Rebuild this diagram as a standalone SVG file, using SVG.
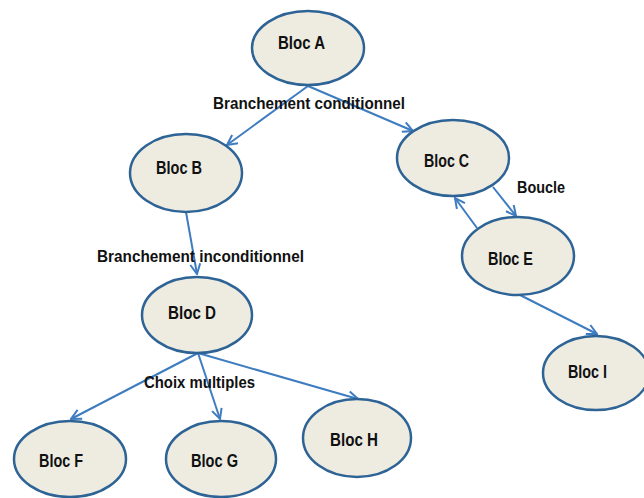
<svg xmlns="http://www.w3.org/2000/svg" width="644" height="498" viewBox="0 0 644 498">
<defs>
<style>
.node ellipse{fill:#EEECE1;stroke:#2E6396;stroke-width:2.5}
.node text{font-family:"Liberation Sans",Arial,sans-serif;font-weight:bold;font-size:19px;fill:#111}
.lbl{font-family:"Liberation Sans",Arial,sans-serif;font-weight:bold;font-size:17px;fill:#111}
#edges line{stroke:#3E7CC0;stroke-width:2;marker-end:url(#arr)}
</style>
<marker id="arr" viewBox="0 0 12 12" refX="11" refY="6" markerWidth="6" markerHeight="6" orient="auto" markerUnits="strokeWidth">
<path d="M1,1 L11,6 L1,11" fill="none" stroke="#3E7CC0" stroke-width="2"/>
</marker>
</defs>
<rect width="644" height="498" fill="#fff"/>
<g id="edges">
<line x1="308" y1="86" x2="227" y2="145"/>
<line x1="308" y1="86" x2="413" y2="131"/>
<line x1="186" y1="212" x2="197" y2="274"/>
<line x1="493" y1="187" x2="516" y2="216"/>
<line x1="477" y1="228" x2="455" y2="198"/>
<line x1="520" y1="295" x2="597" y2="334"/>
<line x1="198" y1="353" x2="71" y2="419"/>
<line x1="198" y1="353" x2="220" y2="419"/>
<line x1="198" y1="353" x2="358" y2="399"/>
</g>
<g id="labels">
<text class="lbl" x="213" y="109" textLength="192" lengthAdjust="spacingAndGlyphs">Branchement conditionnel</text>
<text class="lbl" x="97" y="262" textLength="207" lengthAdjust="spacingAndGlyphs">Branchement inconditionnel</text>
<text class="lbl" x="517" y="193" textLength="48" lengthAdjust="spacingAndGlyphs">Boucle</text>
<text class="lbl" x="144" y="388" textLength="111" lengthAdjust="spacingAndGlyphs">Choix multiples</text>
</g>
<g id="blocA" class="node"><ellipse cx="308" cy="48" rx="56" ry="37"/><text x="278" y="49" textLength="47" lengthAdjust="spacingAndGlyphs">Bloc A</text></g>
<g id="blocB" class="node"><ellipse cx="186" cy="173" rx="56" ry="39"/><text x="156" y="174" textLength="46" lengthAdjust="spacingAndGlyphs">Bloc B</text></g>
<g id="blocC" class="node"><ellipse cx="453" cy="158" rx="56" ry="38"/><text x="424" y="167" textLength="45" lengthAdjust="spacingAndGlyphs">Bloc C</text></g>
<g id="blocD" class="node"><ellipse cx="197" cy="315" rx="55" ry="38"/><text x="168" y="319" textLength="48" lengthAdjust="spacingAndGlyphs">Bloc D</text></g>
<g id="blocE" class="node"><ellipse cx="518" cy="256" rx="56" ry="39"/><text x="488" y="265" textLength="45" lengthAdjust="spacingAndGlyphs">Bloc E</text></g>
<g id="blocF" class="node"><ellipse cx="70" cy="459" rx="56" ry="38"/><text x="39" y="467" textLength="44" lengthAdjust="spacingAndGlyphs">Bloc F</text></g>
<g id="blocG" class="node"><ellipse cx="221" cy="459" rx="55" ry="38"/><text x="191" y="467" textLength="47" lengthAdjust="spacingAndGlyphs">Bloc G</text></g>
<g id="blocH" class="node"><ellipse cx="357" cy="438" rx="54" ry="39"/><text x="330" y="446" textLength="48" lengthAdjust="spacingAndGlyphs">Bloc H</text></g>
<g id="blocI" class="node"><ellipse cx="596" cy="373" rx="53" ry="37"/><text x="568" y="378" textLength="39" lengthAdjust="spacingAndGlyphs">Bloc I</text></g>
</svg>
